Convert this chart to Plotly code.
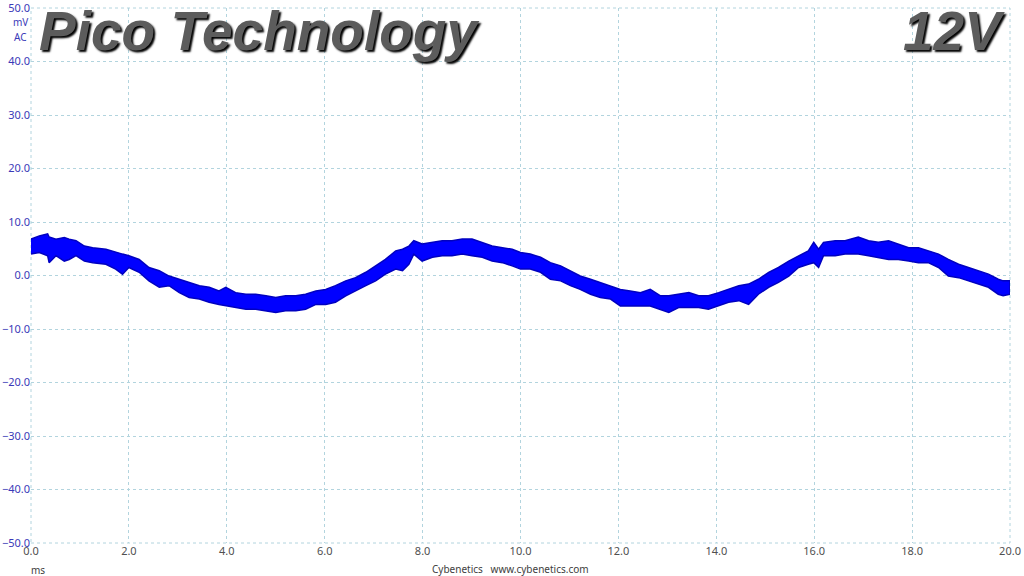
import plotly.graph_objects as go

# time (ms) and envelope of the noisy ripple band (mV)
t_ms = [0.00, 0.17, 0.34, 0.37, 0.51, 0.68, 0.78, 0.92, 1.09, 1.26, 1.53, 1.73, 1.87, 2.00,
        2.21, 2.41, 2.62, 2.82, 3.03, 3.23, 3.44, 3.64, 3.84, 3.98, 4.18, 4.39, 4.59,
        4.80, 5.00, 5.20, 5.41, 5.61, 5.82, 6.02, 6.22, 6.43, 6.63, 6.84, 7.04, 7.24,
        7.45, 7.59, 7.72, 7.82, 7.99, 8.20, 8.40, 8.60, 8.81, 9.01, 9.22, 9.42, 9.63,
        9.83, 10.00, 10.20, 10.41, 10.61, 10.82, 11.02, 11.22, 11.43, 11.63, 11.84,
        12.04, 12.24, 12.45, 12.65, 12.86, 13.03, 13.23, 13.44, 13.64, 13.84, 14.05,
        14.25, 14.46, 14.66, 14.86, 15.07, 15.27, 15.48, 15.68, 15.88, 15.99, 16.09,
        16.19, 16.43, 16.63, 16.90, 17.11, 17.31, 17.52, 17.72, 17.93, 18.13, 18.33,
        18.54, 18.74, 18.95, 19.15, 19.35, 19.56, 19.76, 19.86, 20.00]
upper_mv = [6.8, 7.4, 7.8, 7.2, 6.8, 7.1, 6.8, 6.5, 5.5, 5.2, 4.9, 4.3, 4.0, 3.7,
            3.0, 1.5, 0.9, -0.1, -0.7, -1.3, -1.9, -2.2, -2.9, -2.2, -3.2, -3.5, -3.5,
            -3.8, -4.1, -3.8, -3.8, -3.5, -2.9, -2.6, -1.9, -1.0, -0.4, 0.6, 1.8, 3.0,
            4.6, 4.9, 5.5, 6.5, 5.9, 6.2, 6.5, 6.5, 6.8, 6.8, 6.2, 5.5, 5.2,
            4.9, 4.3, 4.0, 3.4, 2.4, 1.8, 0.9, -0.1, -0.7, -1.3, -1.9,
            -2.6, -2.9, -3.2, -2.6, -3.8, -3.8, -3.5, -3.2, -3.8, -3.8, -3.2,
            -2.6, -1.9, -1.6, -0.7, 0.6, 1.5, 2.7, 3.7, 4.6, 6.2, 4.9,
            6.2, 6.5, 6.5, 7.2, 6.5, 6.2, 6.5, 5.9, 5.2, 5.2, 4.6,
            4.0, 3.0, 2.1, 1.5, 0.9, 0.25, -0.7, -1.0, -1.0]
lower_mv = [4.0, 4.3, 3.7, 2.4, 3.7, 2.7, 3.0, 3.7, 2.7, 2.4, 2.1, 1.2, 0.25, 1.5,
            0.6, -1.0, -2.2, -1.9, -3.2, -4.1, -4.4, -5.0, -5.4, -5.7, -6.0, -6.3, -6.3,
            -6.6, -6.9, -6.6, -6.6, -6.3, -5.4, -5.4, -5.0, -3.8, -2.9, -1.9, -1.0, 0.25,
            1.2, 0.9, 2.1, 4.0, 2.7, 3.4, 3.7, 3.7, 4.0, 3.7, 3.4, 2.7, 2.4,
            1.8, 1.2, 1.2, 0.6, -0.7, -1.0, -1.9, -2.6, -3.5, -4.1, -4.4,
            -5.7, -5.7, -5.7, -5.7, -6.3, -6.9, -6.0, -6.0, -6.0, -6.3, -5.7,
            -5.0, -4.7, -5.4, -3.5, -2.2, -1.3, -0.1, 1.5, 2.1, 2.4, 1.5,
            3.7, 3.7, 4.0, 4.0, 3.7, 3.4, 3.0, 3.0, 2.7, 2.4, 2.4,
            1.5, -0.1, -0.4, -1.0, -1.6, -2.2, -3.5, -3.8, -3.5]

x_ticks = [0, 2, 4, 6, 8, 10, 12, 14, 16, 18, 20]
y_ticks = [-50, -40, -30, -20, -10, 0, 10, 20, 30, 40, 50]

band_x = t_ms + t_ms[::-1]
band_y = upper_mv + lower_mv[::-1]

fig = go.Figure()
fig.add_trace(go.Scatter(x=band_x, y=band_y, mode="lines", fill="toself",
                         fillcolor="#0000ff", line=dict(color="#0000c0", width=1.5),
                         hoverinfo="skip", showlegend=False))

grid = "rgb(178,212,222)"
fig.update_layout(
    width=1024, height=576,
    margin=dict(l=31, r=14, t=8, b=33),
    paper_bgcolor="white", plot_bgcolor="white",
    font=dict(family="Noto Sans, Open Sans, sans-serif", size=11),
    xaxis=dict(range=[0, 20], tickvals=x_ticks, tickformat=".1f", automargin=False,
               showgrid=True, gridcolor=grid, griddash="3px,3px", gridwidth=1,
               zeroline=False, showline=False, ticks="", ticklabeloverflow="allow",
               tickfont=dict(color="#505050", size=11)),
    yaxis=dict(range=[-50, 50], tickvals=y_ticks, tickformat=".1f", automargin=False,
               showgrid=True, gridcolor=grid, griddash="3px,3px", gridwidth=1,
               zeroline=False, showline=False, ticks="", ticklabeloverflow="allow",
               tickfont=dict(color="#3a3ab8", size=11)),
)

# dashed frame on the plot edges (grid lines at the range limits)
fig.add_shape(type="rect", xref="paper", yref="paper", x0=0, x1=1, y0=0, y1=1,
              line=dict(color=grid, width=1, dash="3px,3px"), layer="below")

title_font = dict(family="Liberation Sans, Arial, sans-serif", size=55,
                  color="#5c5c5c", style="italic", weight="bold",
                  shadow="2px 2px 2px #000000")
fig.add_annotation(text="Pico Technology", xref="paper", yref="paper",
                   x=0.006, y=(543 - 31) / 535, xanchor="left", yanchor="middle",
                   showarrow=False, font=title_font)
fig.add_annotation(text="12V", xref="paper", yref="paper",
                   x=(1007 - 31) / 979, y=(543 - 31) / 535, xanchor="right", yanchor="middle",
                   showarrow=False, font=title_font)
fig.add_annotation(text="mV", xref="paper", yref="paper", x=(20 - 31) / 979, y=(543 - 22) / 535,
                   xanchor="center", yanchor="middle", showarrow=False,
                   font=dict(color="#3a3ab8", size=10))
fig.add_annotation(text="AC", xref="paper", yref="paper", x=(20 - 31) / 979, y=(543 - 37) / 535,
                   xanchor="center", yanchor="middle", showarrow=False,
                   font=dict(color="#3a3ab8", size=10))
fig.add_annotation(text="ms", xref="paper", yref="paper", x=(38 - 31) / 979, y=-(570 - 543) / 535,
                   xanchor="center", yanchor="middle", showarrow=False,
                   font=dict(color="#404040", size=10))
fig.add_annotation(text="Cybenetics&nbsp;&nbsp;&nbsp;www.cybenetics.com", xref="paper", yref="paper",
                   x=(510 - 31) / 979, y=-(569 - 543) / 535,
                   xanchor="center", yanchor="middle", showarrow=False,
                   font=dict(color="#404040", size=10))

fig.write_html("out.html", config={"displayModeBar": False},
               post_script="document.body.style.margin='0';")
